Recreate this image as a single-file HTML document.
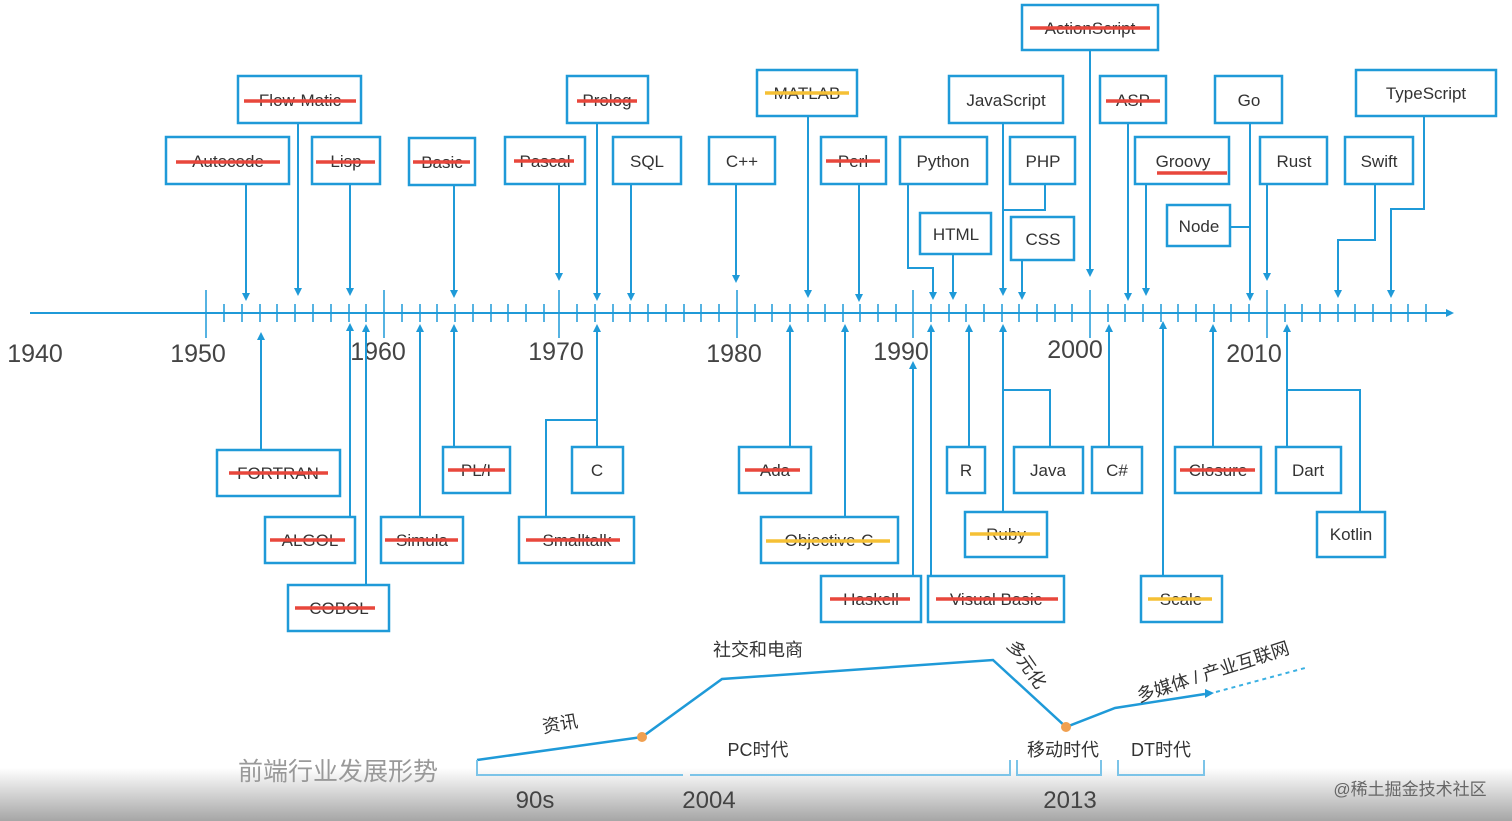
<!DOCTYPE html>
<html><head><meta charset="utf-8"><style>
html,body{margin:0;padding:0;background:#fff;}
svg{display:block;font-family:"Liberation Sans","Noto Sans CJK SC",sans-serif;}
.b{fill:#fff;stroke:#1f9ad8;stroke-width:2.5}
.t{font-size:17px;fill:#333;text-anchor:middle}
.l{stroke:#1f9ad8;stroke-width:2;fill:none}
.r{stroke:#e8473c;stroke-width:3.5}
.y{stroke:#f5c035;stroke-width:3.5}
.yr{font-size:25px;fill:#444;text-anchor:middle}
.cn{font-size:18px;fill:#333;text-anchor:middle}
</style></head><body>
<svg width="1512" height="821" viewBox="0 0 1512 821">
<defs>
<linearGradient id="g" x1="0" y1="0" x2="0" y2="1"><stop offset="0" stop-color="#fff"/><stop offset="1" stop-color="#a6a6a6"/></linearGradient>
<marker id="a" markerWidth="8" markerHeight="8" refX="4" refY="4" orient="auto" markerUnits="userSpaceOnUse"><path d="M0,0 L8,4 L0,8 z" fill="#1f9ad8"/></marker>
</defs>
<rect x="0" y="768" width="1512" height="53" fill="url(#g)"/>
<line x1="30" y1="313" x2="1450" y2="313" class="l" marker-end="url(#a)"/>
<g stroke="#1f9ad8" stroke-width="1.5">
<path d="M206,290V338M384,290V338M559,290V338M737,290V338M913,290V338M1090,290V338M1267,290V338"/>
<path d="M224,304V322M242,304V322M260,304V322M277,304V322M295,304V322M313,304V322M331,304V322M349,304V322M366,304V322M402,304V322M420,304V322M437,304V322M455,304V322M473,304V322M491,304V322M508,304V322M526,304V322M544,304V322M577,304V322M595,304V322M613,304V322M630,304V322M648,304V322M666,304V322M684,304V322M701,304V322M719,304V322M755,304V322M772,304V322M790,304V322M808,304V322M825,304V322M843,304V322M860,304V322M878,304V322M896,304V322M931,304V322M949,304V322M966,304V322M984,304V322M1002,304V322M1019,304V322M1037,304V322M1055,304V322M1072,304V322M1108,304V322M1125,304V322M1143,304V322M1161,304V322M1178,304V322M1196,304V322M1214,304V322M1231,304V322M1249,304V322M1285,304V322M1302,304V322M1320,304V322M1338,304V322M1355,304V322M1373,304V322M1391,304V322M1408,304V322M1426,304V322"/>
</g>
<g class="yr">
<text x="35" y="362">1940</text><text x="198" y="362">1950</text><text x="378" y="360">1960</text><text x="556" y="360">1970</text><text x="734" y="362">1980</text><text x="901" y="360">1990</text><text x="1075" y="358">2000</text><text x="1254" y="362">2010</text>
</g>
<g class="l" marker-end="url(#a)">
<path d="M246,184V297"/><path d="M298,123V292"/><path d="M350,184V292"/><path d="M454,185V294"/>
<path d="M559,184V277"/><path d="M597,123V297"/><path d="M631,184V297"/><path d="M736,184V279"/>
<path d="M808,116V294"/><path d="M859,184V298"/><path d="M908,184V268H933V296"/><path d="M953,254V296"/>
<path d="M1003,123V292"/><path d="M1022,260V296"/><path d="M1090,50V273"/><path d="M1128,123V297"/>
<path d="M1146,184V292"/><path d="M1250,123V297"/><path d="M1267,184V277"/><path d="M1375,184V240H1338V294"/><path d="M1424,116V209H1391V294"/>
</g>
<path class="l" d="M1045,184V210H1003"/><path class="l" d="M1230,227H1250"/>
<g class="l" marker-end="url(#a)">
<path d="M261,450V336"/><path d="M350,517V327"/><path d="M366,585V328"/><path d="M420,517V328"/><path d="M454,447V328"/>
<path d="M597,447V328"/><path d="M790,447V328"/><path d="M845,517V328"/><path d="M913,576V365"/><path d="M931,576V328"/>
<path d="M969,447V328"/><path d="M1003,512V328"/><path d="M1109,447V328"/><path d="M1163,576V325"/><path d="M1213,447V328"/><path d="M1287,447V328"/>
</g>
<path class="l" d="M546,517V420H597"/><path class="l" d="M1050,447V390H1003"/><path class="l" d="M1360,512V390H1287"/>
<g>
<rect class="b" x="166" y="137" width="123" height="47"/><text class="t" x="228" y="167">Autocode</text><line class="r" x1="176" y1="162" x2="280" y2="162"/>
<rect class="b" x="238" y="76" width="123" height="47"/><text class="t" x="300" y="106">Flow-Matic</text><line class="r" x1="244" y1="101" x2="356" y2="101"/>
<rect class="b" x="312" y="137" width="68" height="47"/><text class="t" x="346" y="167">Lisp</text><line class="r" x1="316" y1="162" x2="375" y2="162"/>
<rect class="b" x="409" y="138" width="66" height="47"/><text class="t" x="442" y="168">Basic</text><line class="r" x1="413" y1="162" x2="470" y2="162"/>
<rect class="b" x="505" y="137" width="80" height="47"/><text class="t" x="545" y="167">Pascal</text><line class="r" x1="514" y1="161" x2="574" y2="161"/>
<rect class="b" x="567" y="76" width="81" height="47"/><text class="t" x="607" y="106">Prolog</text><line class="r" x1="577" y1="101" x2="637" y2="101"/>
<rect class="b" x="613" y="137" width="68" height="47"/><text class="t" x="647" y="167">SQL</text>
<rect class="b" x="709" y="137" width="66" height="47"/><text class="t" x="742" y="167">C++</text>
<rect class="b" x="757" y="70" width="100" height="46"/><text class="t" x="807" y="99">MATLAB</text><line class="y" x1="765" y1="93" x2="849" y2="93"/>
<rect class="b" x="821" y="137" width="65" height="47"/><text class="t" x="853" y="167">Perl</text><line class="r" x1="826" y1="161" x2="880" y2="161"/>
<rect class="b" x="900" y="137" width="87" height="47"/><text class="t" x="943" y="167">Python</text>
<rect class="b" x="920" y="213" width="71" height="41"/><text class="t" x="956" y="240">HTML</text>
<rect class="b" x="949" y="76" width="114" height="47"/><text class="t" x="1006" y="106">JavaScript</text>
<rect class="b" x="1010" y="137" width="65" height="47"/><text class="t" x="1043" y="167">PHP</text>
<rect class="b" x="1011" y="217" width="63" height="43"/><text class="t" x="1043" y="245">CSS</text>
<rect class="b" x="1022" y="5" width="136" height="45"/><text class="t" x="1090" y="34">ActionScript</text><line class="r" x1="1030" y1="28" x2="1150" y2="28"/>
<rect class="b" x="1100" y="76" width="66" height="47"/><text class="t" x="1133" y="106">ASP</text><line class="r" x1="1106" y1="101" x2="1160" y2="101"/>
<rect class="b" x="1135" y="137" width="94" height="47"/><text class="t" x="1183" y="167">Groovy</text><line class="r" x1="1157" y1="173" x2="1227" y2="173"/>
<rect class="b" x="1215" y="76" width="67" height="47"/><text class="t" x="1249" y="106">Go</text>
<rect class="b" x="1167" y="205" width="63" height="41"/><text class="t" x="1199" y="232">Node</text>
<rect class="b" x="1260" y="137" width="67" height="47"/><text class="t" x="1294" y="167">Rust</text>
<rect class="b" x="1345" y="137" width="68" height="47"/><text class="t" x="1379" y="167">Swift</text>
<rect class="b" x="1356" y="70" width="140" height="46"/><text class="t" x="1426" y="99">TypeScript</text>
<rect class="b" x="217" y="450" width="123" height="46"/><text class="t" x="278" y="479">FORTRAN</text><line class="r" x1="229" y1="473" x2="328" y2="473"/>
<rect class="b" x="265" y="517" width="90" height="46"/><text class="t" x="310" y="546">ALGOL</text><line class="r" x1="270" y1="540" x2="345" y2="540"/>
<rect class="b" x="288" y="585" width="101" height="46"/><text class="t" x="339" y="614">COBOL</text><line class="r" x1="295" y1="608" x2="375" y2="608"/>
<rect class="b" x="381" y="517" width="82" height="46"/><text class="t" x="422" y="546">Simula</text><line class="r" x1="385" y1="540" x2="458" y2="540"/>
<rect class="b" x="443" y="447" width="67" height="46"/><text class="t" x="476" y="476">PL/I</text><line class="r" x1="448" y1="470" x2="505" y2="470"/>
<rect class="b" x="572" y="447" width="51" height="46"/><text class="t" x="597" y="476">C</text>
<rect class="b" x="519" y="517" width="115" height="46"/><text class="t" x="577" y="546">Smalltalk</text><line class="r" x1="526" y1="540" x2="620" y2="540"/>
<rect class="b" x="739" y="447" width="72" height="46"/><text class="t" x="775" y="476">Ada</text><line class="r" x1="745" y1="470" x2="800" y2="470"/>
<rect class="b" x="761" y="517" width="137" height="46"/><text class="t" x="829" y="546">Objective-C</text><line class="y" x1="766" y1="541" x2="890" y2="541"/>
<rect class="b" x="821" y="576" width="100" height="46"/><text class="t" x="871" y="605">Haskell</text><line class="r" x1="830" y1="599" x2="910" y2="599"/>
<rect class="b" x="928" y="576" width="136" height="46"/><text class="t" x="996" y="605">Visual Basic</text><line class="r" x1="936" y1="599" x2="1058" y2="599"/>
<rect class="b" x="947" y="447" width="38" height="46"/><text class="t" x="966" y="476">R</text>
<rect class="b" x="965" y="512" width="82" height="45"/><text class="t" x="1006" y="540">Ruby</text><line class="y" x1="970" y1="534" x2="1040" y2="534"/>
<rect class="b" x="1014" y="447" width="69" height="46"/><text class="t" x="1048" y="476">Java</text>
<rect class="b" x="1092" y="447" width="50" height="46"/><text class="t" x="1117" y="476">C#</text>
<rect class="b" x="1141" y="576" width="81" height="46"/><text class="t" x="1181" y="605">Scale</text><line class="y" x1="1148" y1="599" x2="1212" y2="599"/>
<rect class="b" x="1175" y="447" width="86" height="46"/><text class="t" x="1218" y="476">Closure</text><line class="r" x1="1180" y1="470" x2="1255" y2="470"/>
<rect class="b" x="1276" y="447" width="65" height="46"/><text class="t" x="1308" y="476">Dart</text>
<rect class="b" x="1317" y="512" width="68" height="45"/><text class="t" x="1351" y="540">Kotlin</text>
</g>
<polyline fill="none" stroke="#1f9ad8" stroke-width="2.5" points="477,760 642,737 722,679 993,660 1066,727 1115,708 1205,694"/>
<path d="M1205,689 L1214,693 L1205,698z" fill="#1f9ad8"/>
<line x1="1216" y1="692" x2="1305" y2="668" stroke="#3ab0e2" stroke-width="2" stroke-dasharray="4,4"/>
<circle cx="642" cy="737" r="5" fill="#f0a050"/><circle cx="1066" cy="727" r="5" fill="#f0a050"/>
<path d="M477,760V775H683M690,775H1010V760M1017,760V775H1101V760M1118,760V775H1204V760" fill="none" stroke="#7cc4e8" stroke-width="2"/>
<g class="cn">
<text x="560" y="730" transform="rotate(-10 560 724)">资讯</text>
<text x="758" y="656">社交和电商</text>
<text x="758" y="756">PC时代</text>
<text x="1063" y="756">移动时代</text>
<text x="1161" y="756">DT时代</text>
<text x="1030" y="664" transform="rotate(55 1022 658)">多元化</text>
<text x="1213" y="678" transform="rotate(-18 1213 672)">多媒体 / 产业互联网</text>
</g>
<text x="338" y="780" font-size="25" fill="#999" text-anchor="middle">前端行业发展形势</text>
<g font-size="24" fill="#444" text-anchor="middle"><text x="535" y="808">90s</text><text x="709" y="808">2004</text><text x="1070" y="808">2013</text></g>
<text x="1410" y="795" font-size="17" fill="#666" text-anchor="middle">@稀土掘金技术社区</text>
</svg>
</body></html>
